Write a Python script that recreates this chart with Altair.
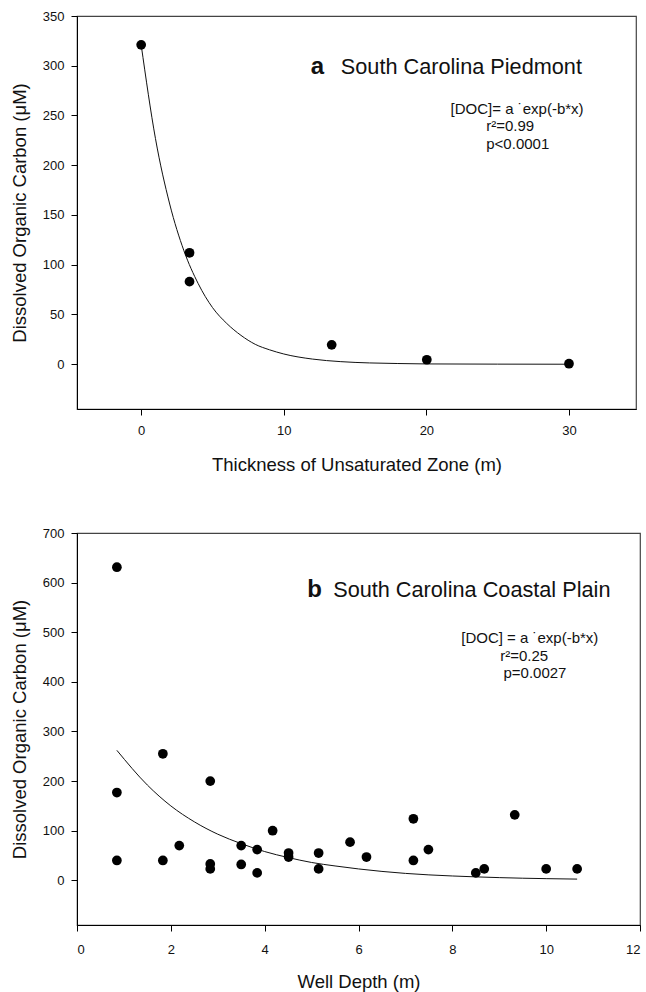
import altair as alt
import pandas as pd

FONT = "Liberation Sans"

# ---------------- Panel a: South Carolina Piedmont ----------------
a_x = [0.0, 3.39, 3.39, 13.36, 20.03, 30.0]
a_y = [321, 112, 83, 19.5, 4.5, 0.5]
a_fit_x = [0, 1, 2, 3, 4, 5, 6, 7, 8, 9, 10, 12, 14, 16, 18, 20, 25, 30]
a_fit_y = [321, 227, 161, 114, 81, 57, 41, 29, 20, 14.5, 10.3, 5.2, 2.6, 1.3, 0.7, 0.3, 0.1, 0.0]
a_xticks = [0, 10, 20, 30]
a_yticks = [0, 50, 100, 150, 200, 250, 300, 350]
a_letter = "a"
a_title = "South Carolina Piedmont"
a_stats = ["[DOC]= a \u02d9exp(-b*x)", "r\u00b2=0.99", "p<0.0001"]

# ---------------- Panel b: South Carolina Coastal Plain ----------------
b_x = [0.85, 0.85, 0.85, 1.83, 1.83, 2.18, 2.84, 2.84, 2.84, 3.5, 3.5, 3.84, 3.84,
       4.17, 4.51, 4.51, 5.15, 5.15, 5.82, 6.17, 7.17, 7.17, 7.49, 8.5, 8.68, 9.33,
       10.0, 10.66]
b_y = [631, 177, 40, 255, 40, 70, 200, 33, 23, 70, 32, 62, 15,
       100, 55, 47, 55, 23, 77, 47, 124, 40, 62, 15, 23, 132,
       23, 23]
b_fit_x = [0.85, 1.5, 2, 2.5, 3, 3.5, 4, 4.5, 5, 5.5, 6, 6.5, 7, 7.5, 8, 8.5, 9, 9.5, 10, 10.66]
b_fit_y = [262, 192, 150, 118, 93, 74, 58, 46, 36, 29, 23, 18, 14, 11, 8.8, 7, 5.5, 4.3, 3.4, 2.5]
b_xticks = [0, 2, 4, 6, 8, 10, 12]
b_yticks = [0, 100, 200, 300, 400, 500, 600, 700]
b_letter = "b"
b_title = "South Carolina Coastal Plain"
b_stats = ["[DOC] = a \u02d9exp(-b*x)", "r\u00b2=0.25", "p=0.0027"]

YTITLE = "Dissolved Organic Carbon (\u03bcM)"


def text_layer(label, x, y, size, weight="normal", baseline="middle"):
    return alt.Chart(pd.DataFrame({"label": [label]})).mark_text(
        align="left", baseline=baseline, font=FONT, fontSize=size,
        fontWeight=weight, color="#111"
    ).encode(x=alt.datum(x), y=alt.datum(y), text="label:N")


def panel(px, py, fx, fy, xdom, ydom, xticks, yticks, xtitle, width, height,
          letter, title, stats, letter_pos, title_pos, stat_pos,
          x_label_pad, x_title_pad):
    pts = pd.DataFrame({"x": px, "y": py})
    fit = pd.DataFrame({"x": fx, "y": fy})
    common = dict(grid=False, format="d", labelFont=FONT, labelFontSize=13,
                  labelColor="#111", titleFont=FONT, titleFontSize=18.5,
                  titleFontWeight="normal", titleColor="#111", tickColor="#000",
                  tickSize=6, domainColor="#000", domainWidth=1)
    xenc = alt.X("x:Q", scale=alt.Scale(domain=xdom, nice=False, zero=False),
                 axis=alt.Axis(values=xticks, title=xtitle,
                               labelPadding=x_label_pad, titlePadding=x_title_pad,
                               **common))
    yenc = alt.Y("y:Q", scale=alt.Scale(domain=ydom, nice=False, zero=False),
                 axis=alt.Axis(values=yticks, title=YTITLE,
                               labelPadding=7, titlePadding=13, **common))
    line = alt.Chart(fit).mark_line(color="#111", strokeWidth=1,
                                    interpolate="monotone").encode(x=xenc, y=yenc)
    dots = alt.Chart(pts).mark_circle(color="#000", opacity=1, size=95).encode(x="x:Q", y="y:Q")
    layers = [line, dots,
              text_layer(letter, letter_pos[0], letter_pos[1], 24, "bold", "alphabetic"),
              text_layer(title, title_pos[0], title_pos[1], 21.7, "normal", "alphabetic")]
    for s, (sx, sy) in zip(stats, stat_pos):
        layers.append(text_layer(s, sx, sy, 15))
    return alt.layer(*layers).properties(width=width, height=height)


top = panel(a_x, a_y, a_fit_x, a_fit_y, [-4.5, 34.7], [-45, 350], a_xticks, a_yticks,
            "Thickness of Unsaturated Zone (m)", 559, 393,
            a_letter, a_title, a_stats,
            (11.9, 292), (14.0, 292),
            [(21.7, 257), (24.2, 239), (24.2, 221.5)], 9, 18)

bottom = panel(b_x, b_y, b_fit_x, b_fit_y, [0, 12], [-90, 700], b_xticks, b_yticks,
               "Well Depth (m)", 563, 392,
               b_letter, b_title, b_stats,
               (4.91, 572), (5.46, 572),
               [(8.19, 489), (9.02, 453), (9.09, 418)], 12, 16)

chart = alt.vconcat(top, bottom, spacing=51).properties(
    padding={"left": 9, "top": 9, "right": 0, "bottom": 0},
    background="white"
).configure_view(
    stroke="#444", strokeWidth=1.2
)

chart.save("out.html", embed_options={"renderer": "svg", "actions": False})
